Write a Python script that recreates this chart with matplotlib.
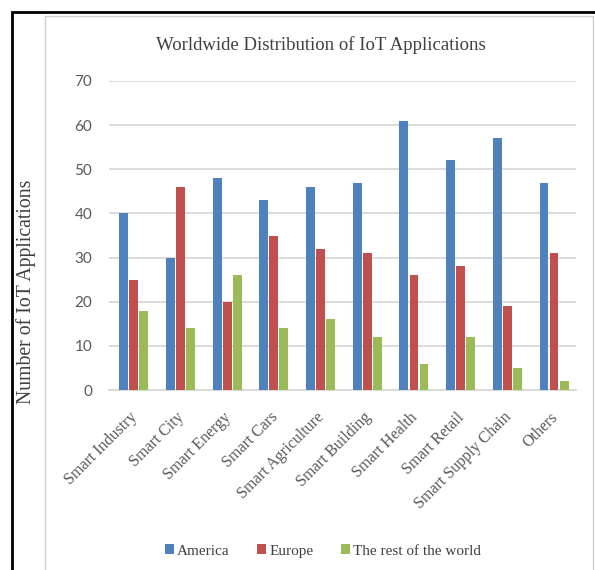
import matplotlib
matplotlib.use("Agg")
import matplotlib.pyplot as plt
import numpy as np
from matplotlib.patches import Rectangle

categories = ["Smart Industry", "Smart City", "Smart Energy", "Smart Cars",
              "Smart Agriculture", "Smart Building", "Smart Health",
              "Smart Retail", "Smart Supply Chain", "Others"]
america = [40, 30, 48, 43, 46, 47, 61, 52, 57, 47]
europe = [25, 46, 20, 35, 32, 31, 26, 28, 19, 31]
rest = [18, 14, 26, 14, 16, 12, 6, 12, 5, 2]
series_names = ["America", "Europe", "The rest of the world"]
colors = ["#4F81BD", "#C0504D", "#9BBB59"]
yticks = [0, 10, 20, 30, 40, 50, 60, 70]

W, H = 595, 570
fig = plt.figure(figsize=(W / 100, H / 100), dpi=100)

def fx(px):
    return px / W

def fy(py):
    return 1 - py / H

# outer black frame
fig.patches.append(Rectangle((fx(12), fy(H + 5)), fx(W + 10), (H + 5 - 12) / H,
                             transform=fig.transFigure, fill=False,
                             edgecolor="black", linewidth=2.0, zorder=0))
# inner gray chart box
fig.patches.append(Rectangle((fx(45), fy(H + 5)), fx(593 - 45), (H + 5 - 16) / H,
                             transform=fig.transFigure, fill=False,
                             edgecolor="#D0D0D0", linewidth=1.0, zorder=0))

ax_left, ax_right, ax_top, ax_bot = 109, 576, 81, 390
ax = fig.add_axes([fx(ax_left), fy(ax_bot), fx(ax_right - ax_left), (ax_bot - ax_top) / H])

x = np.arange(len(categories))
bw = 0.19
offs = [-0.215, 0.0, 0.215]
for vals, name, c, o in zip([america, europe, rest], series_names, colors, offs):
    ax.bar(x + o + 0.03, vals, width=bw, color=c, label=name, zorder=3)

ax.set_xlim(-0.5, len(categories) - 0.5)
ax.set_ylim(0, 70)
ax.set_yticks(yticks)
ax.grid(axis="y", color="#D9D9D9", linewidth=1.3, zorder=0)
for s in ["top", "right", "left"]:
    ax.spines[s].set_visible(False)
ax.spines["bottom"].set_color("#D9D9D9")
ax.spines["bottom"].set_linewidth(1.3)
ax.tick_params(length=0)
ax.tick_params(axis="y", pad=12)
for lab in ax.get_yticklabels():
    lab.set_fontfamily("Lato")
    lab.set_fontsize(11)
    lab.set_color("#595959")

ax.set_xticks(x - 0.06)
ax.set_xticklabels(categories, rotation=45, ha="right", rotation_mode="anchor",
                   fontfamily="Liberation Serif", fontsize=11.5, color="#595959")
ax.tick_params(axis="x", pad=14)

fig.text(fx(321), fy(45), "Worldwide Distribution of IoT Applications",
         ha="center", va="center", fontfamily="Liberation Serif", fontsize=13.5,
         color="#404040")
fig.text(fx(26), fy(292), "Number of IoT Applications", rotation=90,
         ha="center", va="center", fontfamily="Liberation Serif", fontsize=14.2,
         color="#404040")

leg = fig.legend(loc="center", bbox_to_anchor=(fx(323), fy(551)), ncol=3,
                 frameon=False, prop={"family": "Liberation Serif", "size": 11},
                 handlelength=0.6, handleheight=0.6, handletextpad=0.2,
                 columnspacing=1.8)
for t in leg.get_texts():
    t.set_color("#404040")

fig.savefig("out.png", dpi=100)
